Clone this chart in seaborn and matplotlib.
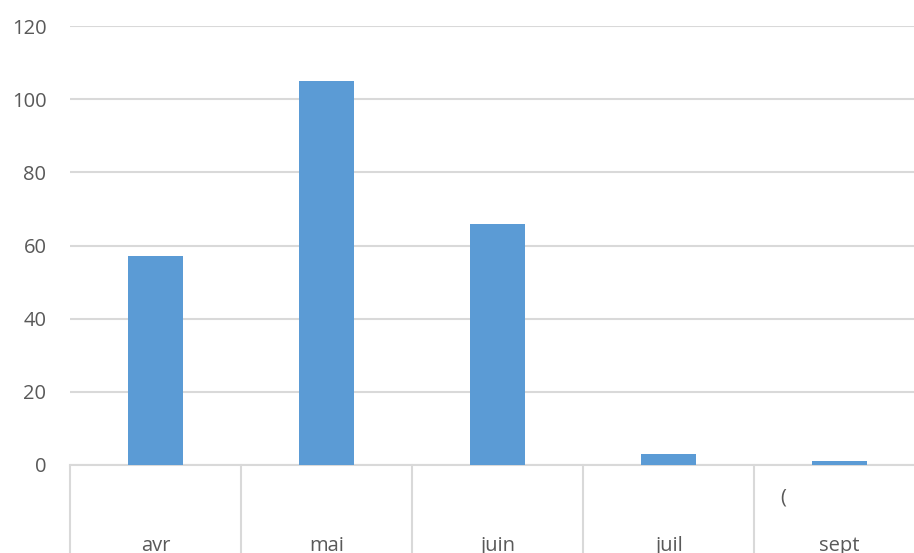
import matplotlib
matplotlib.use("Agg")
import matplotlib.pyplot as plt
import matplotlib.transforms as mtransforms
import seaborn as sns
import pandas as pd

months = ["avr", "mai", "juin", "juil", "sept"]
counts = [57, 105, 66, 3, 1]
y_ticks = [0, 20, 40, 60, 80, 100, 120]

df = pd.DataFrame({"mois": months, "nombre": counts})

sns.set_theme(style="white")
plt.rcParams["font.family"] = ["Open Sans", "DejaVu Sans"]

W, H = 914, 553
fig = plt.figure(figsize=(W / 100, H / 100), dpi=100)
left, right, top, bottom = 70, 925, 26, 465
ax = fig.add_axes([left / W, 1 - bottom / H, (right - left) / W, (bottom - top) / H])

sns.barplot(data=df, x="mois", y="nombre", color="#5b9bd5", saturation=1,
            width=0.32, linewidth=0, ax=ax, zorder=3)

ax.set_xlim(-0.5, len(months) - 0.5)
ax.set_ylim(0, 120)
ax.set_yticks(y_ticks)
ax.set_yticklabels([str(v) for v in y_ticks], fontsize=14.5, color="#595959")
ax.tick_params(axis="y", length=0, pad=17)
ax.set_xticks([])
ax.set_xlabel("")
ax.set_ylabel("")
ax.yaxis.grid(True, color="#d9d9d9", linewidth=1.5, zorder=0)
ax.set_axisbelow(True)
for side in ["left", "right", "top"]:
    ax.spines[side].set_visible(False)
ax.spines["bottom"].set_color("#d9d9d9")
ax.spines["bottom"].set_linewidth(1.5)

# category table under the axis
trans = mtransforms.blended_transform_factory(ax.transData, ax.transAxes)
for b in range(len(months) + 1):
    ax.plot([b - 0.5, b - 0.5], [0, -0.25], transform=trans, color="#d9d9d9",
            linewidth=1.5, clip_on=False)
for i, m in enumerate(months):
    ax.annotate(m, xy=(i, 0), xycoords=trans, xytext=(0, -51),
                textcoords="offset points", ha="center", va="top",
                fontsize=14.5, color="#595959", annotation_clip=False)
ax.annotate("(", xy=(3.67, 0), xycoords=trans, xytext=(0, -16),
            textcoords="offset points", ha="center", va="top",
            fontsize=14.5, color="#595959", annotation_clip=False)

fig.savefig("out.png", dpi=100)
